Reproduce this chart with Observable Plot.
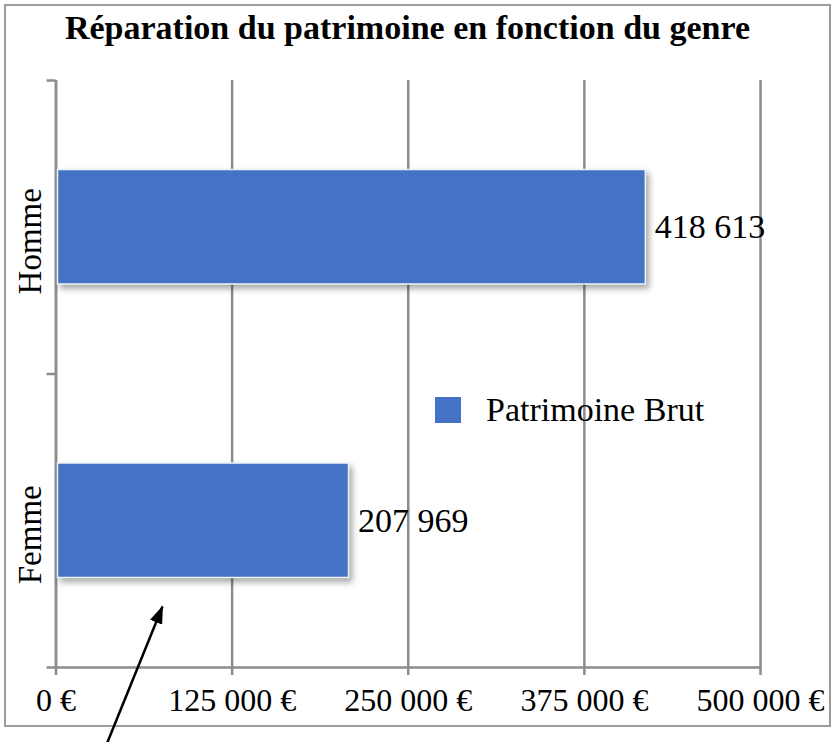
<!DOCTYPE html>
<html>
<head>
<meta charset="utf-8">
<script src="https://cdn.jsdelivr.net/npm/d3@7"></script>
<script src="https://cdn.jsdelivr.net/npm/@observablehq/plot@0.6"></script>
<style>
  html, body { margin: 0; padding: 0; background: #fff; }
  #wrap { position: relative; width: 832px; height: 742px; overflow: hidden; }
  #frame { position: absolute; left: 4px; top: 4px; width: 827px; height: 723px; box-sizing: border-box; border: 2.5px solid #9d9d9d; }
  #title { position: absolute; left: 0; top: 11px; width: 815px; text-align: center; font: bold 34px/34px "Liberation Serif", serif; color: #000; }
  #chart { position: absolute; left: 0; top: 0; }
  #chart svg { overflow: visible; }
  #chart g[aria-label="rect"] { filter: drop-shadow(3px 4px 3px rgba(0,0,0,0.35)); }
  #legend { position: absolute; left: 435px; top: 393px; }
  .leg-swatches { font-family: "Liberation Serif", serif !important; font-size: 34px !important; line-height: 26px !important; margin: 0 !important; color: #000 !important; }
  .leg-swatch { margin: 0 !important; }
  .leg-swatch > svg { margin-right: 25px !important; }
</style>
</head>
<body>
<div id="wrap">
  <div id="frame"></div>
  <div id="title"></div>
  <div id="chart"></div>
  <div id="legend"></div>
</div>
<script>
// ---- data ----
const titleText = "Réparation du patrimoine en fonction du genre";
const categories = ["Femme", "Homme"];
const values = [207969, 418613];
const seriesName = "Patrimoine Brut";
const seriesColor = "#4472C4";
const xTicks = [0, 125000, 250000, 375000, 500000];
// annotation arrow (data units: x in €, y in category index units)
const arrowTail = [36500, -0.755];
const arrowTip = [75600, -0.292];

// ---- build ----
const rows = categories.map((c, i) => ({category: c, pos: i, value: values[i], series: seriesName}));
const yBoundaries = d3.range(categories.length + 1).map(i => i - 0.5);
const barHalf = 0.195;
const gridColor = "#8c8c8c";

const loc = d3.formatLocale({decimal: ",", thousands: " ", grouping: [3], currency: ["", " €"]});
const fmtEuro = loc.format("$,");
const fmtNum = loc.format(",");

function arrowHead(color) {
  const m = d3.create("svg:marker")
    .attr("viewBox", "-17 -7 18 14")
    .attr("markerWidth", 18)
    .attr("markerHeight", 14)
    .attr("markerUnits", "userSpaceOnUse")
    .attr("orient", "auto")
    .attr("refX", 0)
    .attr("refY", 0)
    .attr("fill", color)
    .attr("stroke", "none");
  m.append("path").attr("d", "M-17,-6.5L1,0L-17,6.5Z");
  return m.node();
}

document.getElementById("title").textContent = titleText;

const plot = Plot.plot({
  width: 832,
  height: 742,
  marginLeft: 55.5,
  marginRight: 72,
  marginTop: 80,
  marginBottom: 75,
  x: {domain: [0, 500000], label: null},
  y: {domain: [-0.5, categories.length - 0.5], label: null},
  color: {domain: [seriesName], range: [seriesColor]},
  style: {fontFamily: "Liberation Serif, serif", fontSize: "33px", color: "#000", background: "transparent"},
  marks: [
    Plot.gridX(xTicks, {stroke: gridColor, strokeOpacity: 1, strokeWidth: 2.5}),
    Plot.ruleY([-0.5], {stroke: gridColor, strokeWidth: 2.5}),
    Plot.ruleX([0], {stroke: gridColor, strokeWidth: 2.5}),
    Plot.axisX(xTicks, {anchor: "bottom", tickSize: 8, tickPadding: 13, tickFormat: fmtEuro, fontSize: 32, stroke: gridColor, strokeWidth: 2.5, fill: "#000", label: null}),
    Plot.axisY(yBoundaries, {anchor: "left", tickSize: 9, tickFormat: () => "", stroke: gridColor, strokeWidth: 2.5, label: null}),
    Plot.rect(rows, {
      x1: 0, x2: "value",
      y1: d => d.pos - barHalf, y2: d => d.pos + barHalf,
      fill: "series", stroke: "#eef2fa", strokeWidth: 1.5, insetLeft: 2
    }),
    Plot.text(rows, {x: "value", y: "pos", text: d => fmtNum(d.value), textAnchor: "start", dx: 9, fontSize: 34, fill: "#000"}),
    Plot.text(rows, {y: "pos", text: "category", frameAnchor: "left", textAnchor: "middle", dx: -25.5, dy: 14, rotate: -90, fontSize: 33, fill: "#000"}),
    Plot.link([{x1: arrowTail[0], y1: arrowTail[1], x2: arrowTip[0], y2: arrowTip[1]}], {
      x1: "x1", y1: "y1", x2: "x2", y2: "y2", stroke: "#000", strokeWidth: 2.5, markerEnd: arrowHead
    })
  ]
});
document.getElementById("chart").appendChild(plot);

const legend = plot.legend("color", {className: "leg", swatchSize: 26});
document.getElementById("legend").appendChild(legend);
</script>
</body>
</html>
